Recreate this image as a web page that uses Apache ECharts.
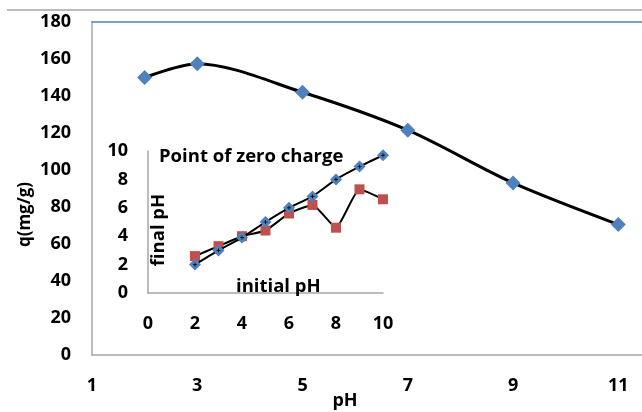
<!DOCTYPE html>
<html><head><meta charset="utf-8">
<script src="https://cdn.jsdelivr.net/npm/echarts@6/dist/echarts.min.js"></script>
<style>html,body{margin:0;padding:0;background:#fff}#c{width:642px;height:412px}</style>
</head><body><div id="c"></div>
<script>
// Main chart data
var mainPH = [2, 3, 5, 7, 9, 11];
var mainQ = [150, 157.5, 142, 121.5, 93, 70.5];
var mainXTicks = [1, 3, 5, 7, 9, 11];
var mainYTicks = [0, 20, 40, 60, 80, 100, 120, 140, 160, 180];
// Inset (point of zero charge) data
var initialPH = [2, 3, 4, 5, 6, 7, 8, 9, 10];
var finalBlue = [2.0, 3.0, 3.9, 5.0, 6.0, 6.8, 8.0, 8.9, 9.7];
var finalRed = [2.6, 3.3, 4.0, 4.4, 5.6, 6.2, 4.6, 7.3, 6.6];
var insetTicks = [0, 2, 4, 6, 8, 10];

function pairs(xs, ys) { return xs.map(function (x, i) { return [x, ys[i]]; }); }

var FONT = 'Open Sans';
var lab = { color: '#000', fontFamily: FONT, fontWeight: 'bold', fontSize: 18 };
var gray = '#a6a6a6';

var chart = echarts.init(document.getElementById('c'), null, { renderer: 'canvas' });
chart.setOption({
  animation: false,
  backgroundColor: '#fff',
  title: [{
    text: 'Point of zero charge', left: 154, top: 142,
    textStyle: { color: '#000', fontFamily: FONT, fontWeight: 'bold', fontSize: 18.5 }
  }, {
    text: 'initial pH', left: 231, top: 272,
    textStyle: { color: '#000', fontFamily: FONT, fontWeight: 'bold', fontSize: 18.5 }
  }],
  graphic: [{
    type: 'line', silent: true,
    shape: { x1: 7, y1: 10, x2: 642, y2: 10 },
    style: { stroke: gray, lineWidth: 1.5 }
  }],
  grid: [
    { left: 92, top: 22, right: 0, bottom: 57, outerBoundsMode: 'none', containLabel: false },
    { left: 148, top: 151, width: 235, height: 142, outerBoundsMode: 'none', containLabel: false }
  ],
  xAxis: [{
    gridIndex: 0, type: 'value', min: mainXTicks[0], max: 11.45, interval: 2,
    name: 'pH', nameLocation: 'middle', nameGap: 37, nameMoveOverlap: false,
    nameTextStyle: Object.assign({}, lab, { padding: [0, 44, 0, 0] }),
    axisLine: { show: true, lineStyle: { color: gray, width: 1.5 } },
    axisTick: { show: false }, splitLine: { show: false },
    axisLabel: Object.assign({}, lab, { margin: 22, showMaxLabel: false })
  }, {
    gridIndex: 0, type: 'value', position: 'top', min: 1, max: 11.45,
    axisLine: { show: true, lineStyle: { color: '#4f81bd', width: 1.5 } },
    axisTick: { show: false }, axisLabel: { show: false }, splitLine: { show: false }
  }, {
    gridIndex: 1, type: 'value', min: insetTicks[0], max: 10, interval: 2,
    axisLine: { show: true, onZero: false, lineStyle: { color: gray, width: 1.5 } },
    axisTick: { show: false }, splitLine: { show: false },
    axisLabel: Object.assign({}, lab, { margin: 22 })
  }],
  yAxis: [{
    gridIndex: 0, type: 'value', min: mainYTicks[0], max: 180, interval: 20,
    name: 'q(mg/g)', nameLocation: 'middle', nameGap: 58, nameRotate: 90, nameMoveOverlap: false,
    nameTextStyle: Object.assign({}, lab, { fontSize: 17, padding: [0, 52, 0, 0] }),
    axisLine: { show: true, lineStyle: { color: gray, width: 1.5 } },
    axisTick: { show: false }, splitLine: { show: false },
    axisLabel: Object.assign({}, lab, { margin: 21 })
  }, {
    gridIndex: 1, type: 'value', min: insetTicks[0], max: 10, interval: 2,
    name: 'final pH', nameLocation: 'middle', nameGap: -20, nameRotate: 90, nameMoveOverlap: false,
    nameTextStyle: Object.assign({}, lab, { fontSize: 18.5, padding: [0, 16, 0, 0] }),
    axisLine: { show: true, onZero: false, lineStyle: { color: gray, width: 1.5 } },
    axisTick: { show: false }, splitLine: { show: false },
    axisLabel: Object.assign({}, lab, { margin: 20 })
  }],
  series: [{
    type: 'line', xAxisIndex: 0, yAxisIndex: 0, smooth: 0.3,
    data: pairs(mainPH, mainQ),
    lineStyle: { color: '#000', width: 3 },
    symbol: 'diamond', symbolSize: 15,
    itemStyle: { color: '#4f81bd' }, z: 3
  }, {
    type: 'line', xAxisIndex: 2, yAxisIndex: 1, smooth: 0.15,
    data: pairs(initialPH, finalRed),
    lineStyle: { color: '#000', width: 2 },
    symbol: 'rect', symbolSize: 10,
    itemStyle: { color: '#c0504d' }, z: 3
  }, {
    type: 'line', xAxisIndex: 2, yAxisIndex: 1, smooth: 0.15,
    data: pairs(initialPH, finalBlue),
    lineStyle: { color: '#000', width: 2 },
    symbol: 'diamond', symbolSize: 12,
    itemStyle: { color: '#4f81bd' }, z: 4
  }, {
    type: 'scatter', xAxisIndex: 2, yAxisIndex: 1,
    data: pairs(initialPH, finalBlue),
    symbol: 'path://M-1,0L1,0M0,-1L0,1', symbolSize: 4,
    itemStyle: { color: 'none', borderColor: '#000', borderWidth: 1 }, z: 5
  }]
});
</script></body></html>
